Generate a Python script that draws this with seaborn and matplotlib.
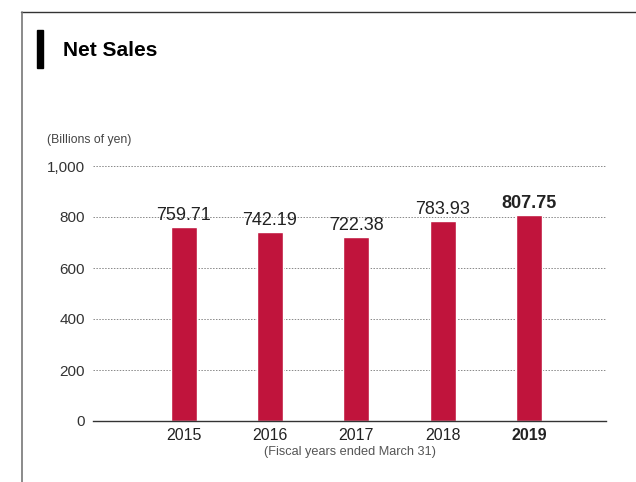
import matplotlib
matplotlib.use("Agg")
import matplotlib.pyplot as plt
from matplotlib.lines import Line2D
from matplotlib.patches import Rectangle
import seaborn as sns
import pandas as pd

# Data
years = ["2015", "2016", "2017", "2018", "2019"]
net_sales = [759.71, 742.19, 722.38, 783.93, 807.75]
y_ticks = [0, 200, 400, 600, 800, 1000]
y_tick_labels = ["0", "200", "400", "600", "800", "1,000"]

df = pd.DataFrame({"year": years, "sales": net_sales})

sns.set_theme(style="white")
plt.rcParams["font.family"] = ["Liberation Sans Narrow", "Liberation Sans", "DejaVu Sans"]

fig = plt.figure(figsize=(6.36, 4.82), dpi=100)
W, H = 636, 482
ax = fig.add_axes([93 / W, (H - 421) / H, (606 - 93) / W, 255 / H])

bar_color = "#C0143C"
sns.barplot(data=df, x="year", y="sales", color=bar_color, width=0.3,
            saturation=1, ax=ax)

ax.set_xlim(-1.05, 4.89)
ax.set_ylim(0, 1000)
ax.set_yticks(y_ticks)
ax.set_yticklabels(y_tick_labels, fontsize=11, color="#333333")
ax.tick_params(axis="both", length=0, pad=6)
ax.set_xticks(range(len(years)))
ax.set_xticklabels(years, fontsize=11.5, color="#222222")
ax.get_xticklabels()[-1].set_fontweight("bold")
ax.tick_params(axis="x", pad=5)

for y in y_ticks[1:]:
    ax.axhline(y, color="#888888", lw=0.7, ls=(0, (1.5, 1.5)), zorder=0,
               clip_on=False)

for s in ["top", "right", "left"]:
    ax.spines[s].set_visible(False)
ax.spines["bottom"].set_color("#333333")
ax.spines["bottom"].set_linewidth(1.0)

ax.set_xlabel("(Fiscal years ended March 31)", fontsize=9.2, color="#555555",
              labelpad=2)
ax.set_ylabel("")

for i, v in enumerate(net_sales):
    last = i == len(net_sales) - 1
    ax.text(i, v + 12, f"{v:.2f}", ha="center", va="bottom",
            fontsize=13, color="#222222",
            fontweight="bold" if last else "normal")

fig.text(47 / W, 1 - 140 / H, "(Billions of yen)", fontsize=8.8,
         color="#444444", va="center", ha="left")

# Title with marker bar
fig.add_artist(Rectangle((37 / W, 1 - 68 / H), 6 / W, 38 / H,
                         transform=fig.transFigure, color="black"))
fig.text(63 / W, 1 - 50 / H, "Net Sales", fontsize=15, fontweight="bold",
         color="black", va="center", ha="left")

# Frame lines
fig.add_artist(Line2D([21 / W, 1], [1 - 12 / H, 1 - 12 / H],
                      transform=fig.transFigure, color="#333333", lw=1))
fig.add_artist(Line2D([22 / W, 22 / W], [0, 1 - 12 / H],
                      transform=fig.transFigure, color="#777777", lw=1.2))

fig.savefig("out.png", dpi=100)
